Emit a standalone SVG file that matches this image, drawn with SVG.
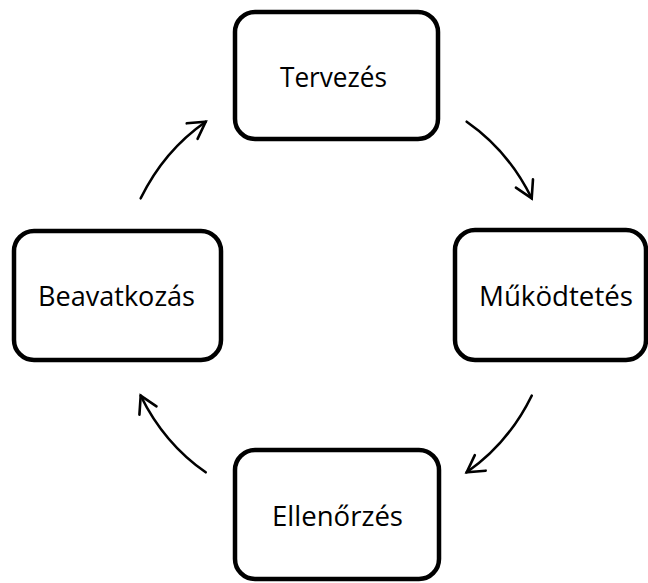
<svg xmlns="http://www.w3.org/2000/svg" width="648" height="583" viewBox="0 0 648 583">
  <style>
    .box { fill: #ffffff; stroke: #000000; stroke-width: 4.5; }
    .lbl { font-family: "Open Sans", "Noto Sans", "Liberation Sans", sans-serif; font-size: 28px; fill: #000000; }
    .arr { fill: none; stroke: #000000; stroke-width: 2.6; stroke-linecap: round; marker-end: url(#ah); }
  </style>
  <defs>
    <marker id="ah" markerUnits="userSpaceOnUse" markerWidth="40" markerHeight="40" refX="0" refY="0" orient="auto" style="overflow:visible">
      <path d="M-16.5,-9.5 L0,0 L-16.5,9.5" fill="none" stroke="#000000" stroke-width="2.6" stroke-linecap="round" stroke-linejoin="miter"/>
    </marker>
  </defs>
  <rect width="648" height="583" fill="#ffffff"/>
  <g id="connectors">
    <path class="arr" d="M466.7,121.7 Q508.4,150.7 531.7,198.3"/>
    <path class="arr" d="M531.7,395.7 Q508.4,443.3 466.7,472.3"/>
    <path class="arr" d="M205.7,472.3 Q164,443.3 140.7,395.7"/>
    <path class="arr" d="M140.7,198.3 Q164,150.7 205.7,121.7"/>
  </g>
  <g id="tervezes">
    <rect class="box" x="235" y="12" width="203" height="127" rx="20" ry="20"/>
    <text class="lbl" x="280" y="87" textLength="107" lengthAdjust="spacingAndGlyphs">Tervezés</text>
  </g>
  <g id="mukodtetes">
    <rect class="box" x="455" y="230" width="191" height="130" rx="20" ry="20"/>
    <text class="lbl" x="479" y="306" textLength="154" lengthAdjust="spacingAndGlyphs">Működtetés</text>
  </g>
  <g id="ellenorzes">
    <rect class="box" x="235" y="450" width="204" height="129" rx="20" ry="20"/>
    <text class="lbl" x="272" y="526" textLength="131" lengthAdjust="spacingAndGlyphs">Ellenőrzés</text>
  </g>
  <g id="beavatkozas">
    <rect class="box" x="14" y="231" width="207" height="129" rx="20" ry="20"/>
    <text class="lbl" x="38" y="306" textLength="157" lengthAdjust="spacingAndGlyphs">Beavatkozás</text>
  </g>
</svg>
